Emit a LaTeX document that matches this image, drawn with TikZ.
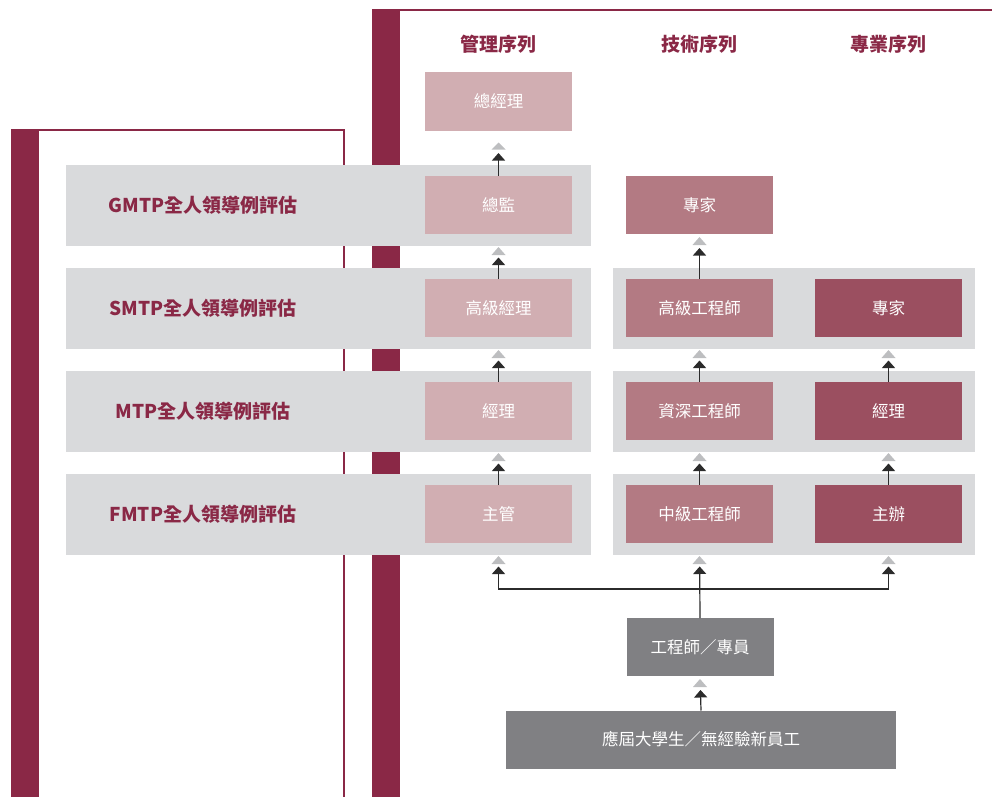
\documentclass[tikz,border=0pt]{standalone}
\usepackage{fontspec}
\setmainfont{Noto Sans CJK TC}
\usetikzlibrary{arrows.meta}
\definecolor{maroon}{HTML}{8A2846}
\definecolor{bandgray}{HTML}{D9DADC}
\definecolor{mgmt}{HTML}{D1AEB2}
\definecolor{techc}{HTML}{B37A83}
\definecolor{profc}{HTML}{9B4F60}
\definecolor{darkbox}{HTML}{808083}
\definecolor{trigray}{HTML}{BDBEC0}
\definecolor{linecol}{HTML}{2B2B2B}
\tikzset{
  band/.style={fill=bandgray, inner sep=0pt, outer sep=0pt, anchor=north west},
  box/.style={minimum width=147pt, minimum height=58pt, inner sep=0pt, outer sep=0pt,
    text=white, font=\fontsize{16.5}{18}\selectfont},
  mbox/.style={box, fill=mgmt},
  tbox/.style={box, fill=techc},
  pbox/.style={box, fill=profc},
  gbox/.style={box, fill=darkbox},
  lbl/.style={text=maroon, font=\fontsize{19}{21}\selectfont\bfseries, inner sep=0pt},
  uparrow/.style={draw=linecol, line width=1.2pt,
    -{Triangle[length=7.5pt, width=13pt]}, shorten >=#1},
  uparrow/.default=23.5pt
}
% gray triangle below node #1, from #2 to #3 pt under its south side
\newcommand\gtri[3]{\fill[trigray] ([xshift=-7pt,yshift=-#3pt]#1.south) -- ([xshift=7pt,yshift=-#3pt]#1.south) -- ([yshift=-#2pt]#1.south) -- cycle;}
\begin{document}
\begin{tikzpicture}[x=1pt,y=-1pt]
\useasboundingbox (0,0) rectangle (992,797);
% back frame
\fill[maroon] (372,9) rectangle (400,797);
\fill[maroon] (372,9) rectangle (992,11);
% front frame
\fill[maroon] (11,129) rectangle (39,797);
\fill[maroon] (11,129) rectangle (345,131);
\fill[maroon] (343,129) rectangle (345,797);
% bands
\node[band, minimum width=525pt, minimum height=81pt] (b1) at (66,165) {};
\node[band, minimum width=525pt, minimum height=81pt] (b2) at (66,268) {};
\node[band, minimum width=362pt, minimum height=81pt] (b2r) at (613,268) {};
\node[band, minimum width=525pt, minimum height=81pt] (b3) at (66,371) {};
\node[band, minimum width=362pt, minimum height=81pt] (b3r) at (613,371) {};
\node[band, minimum width=525pt, minimum height=81pt] (b4) at (66,474) {};
\node[band, minimum width=362pt, minimum height=81pt] (b4r) at (613,474) {};
% row labels
\node[lbl] (l1) at (203,205.5) {GMTP全人領導例評估};
\node[lbl] (l2) at (203,308.5) {SMTP全人領導例評估};
\node[lbl] (l3) at (203,411.5) {MTP全人領導例評估};
\node[lbl] (l4) at (203,514.5) {FMTP全人領導例評估};
% headers
\node[lbl] (h1) at (498.5,44) {管理序列};
\node[lbl] (h2) at (699.5,44) {技術序列};
\node[lbl] (h3) at (888.5,44) {專業序列};
% boxes
\node[mbox] (m0) at (498.5,101.5) {總經理};
\node[mbox] (m1) at (498.5,205) {總監};
\node[mbox] (m2) at (498.5,308) {高級經理};
\node[mbox] (m3) at (498.5,411) {經理};
\node[mbox] (m4) at (498.5,514) {主管};
\node[tbox] (t1) at (699.5,205) {專家};
\node[tbox] (t2) at (699.5,308) {高級工程師};
\node[tbox] (t3) at (699.5,411) {資深工程師};
\node[tbox] (t4) at (699.5,514) {中級工程師};
\node[pbox] (p2) at (888.5,308) {專家};
\node[pbox] (p3) at (888.5,411) {經理};
\node[pbox] (p4) at (888.5,514) {主辦};
\node[gbox] (eng) at (700,647) {工程師／專員};
\node[gbox, minimum width=390pt] (grad) at (701,739.5) {應屆大學生／無經驗新員工};
% connectors
\draw[uparrow=22.5pt] (m1.north) -- (m0.south); \gtri{m0}{12}{19}
\draw[uparrow] (m2.north) -- (m1.south); \gtri{m1}{13}{21}
\draw[uparrow] (m3.north) -- (m2.south); \gtri{m2}{13}{21}
\draw[uparrow] (m4.north) -- (m3.south); \gtri{m3}{13}{21}
\draw[uparrow=14pt] (t2.north) -- (t1.south); \gtri{t1}{3}{11}
\draw[uparrow] (t3.north) -- (t2.south); \gtri{t2}{13}{21}
\draw[uparrow] (t4.north) -- (t3.south); \gtri{t3}{13}{21}
\draw[uparrow] (p3.north) -- (p2.south); \gtri{p2}{13}{21}
\draw[uparrow] (p4.north) -- (p3.south); \gtri{p3}{13}{21}
\coordinate (jn) at (700,589);
\draw[uparrow] (eng.north) -- (t4.south); \gtri{t4}{13}{21}
\draw[uparrow] (jn) -| (m4.south); \gtri{m4}{13}{21}
\draw[uparrow] (jn) -| (p4.south); \gtri{p4}{13}{21}
\draw[uparrow=14pt] (grad.north) -- (eng.south); \gtri{eng}{3}{11}
\end{tikzpicture}
\end{document}
